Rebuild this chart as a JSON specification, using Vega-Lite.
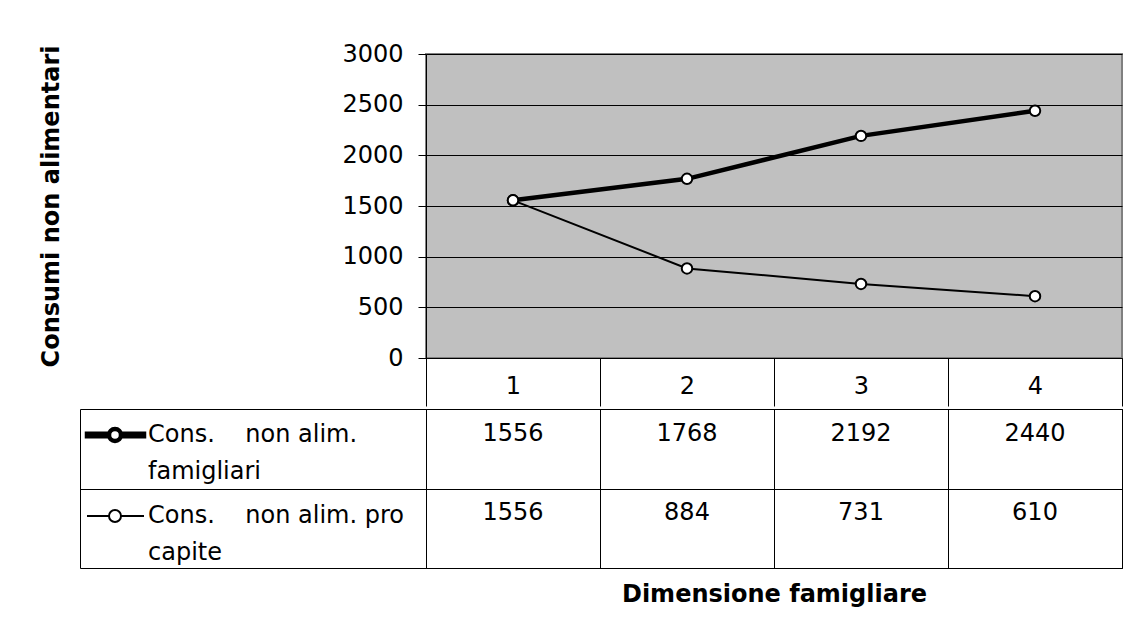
{
  "$schema": "https://vega.github.io/schema/vega-lite/v6.json",
  "padding": {"left": 38, "top": 41, "right": 0, "bottom": 0},
  "background": "white",
  "spacing": 0,
  "resolve": {"scale": {"strokeWidth": "independent"}, "legend": {"strokeWidth": "independent"}},
  "config": {
    "font": "DejaVu Sans",
    "axis": {
      "labelFont": "DejaVu Sans",
      "titleFont": "DejaVu Sans",
      "labelFontSize": 24,
      "titleFontSize": 24,
      "titleFontWeight": "bold",
      "labelColor": "black",
      "titleColor": "black",
      "domainColor": "black",
      "tickColor": "black",
      "gridColor": "black",
      "gridOpacity": 1
    },
    "legend": {
      "labelFont": "DejaVu Sans",
      "labelFontSize": 24,
      "labelColor": "black"
    }
  },
  "datasets": {
    "vals": [
      {"dim": "1", "series": "Cons. non alim. famigliari", "value": 1556},
      {"dim": "2", "series": "Cons. non alim. famigliari", "value": 1768},
      {"dim": "3", "series": "Cons. non alim. famigliari", "value": 2192},
      {"dim": "4", "series": "Cons. non alim. famigliari", "value": 2440},
      {"dim": "1", "series": "Cons. non alim. pro capite", "value": 1556},
      {"dim": "2", "series": "Cons. non alim. pro capite", "value": 884},
      {"dim": "3", "series": "Cons. non alim. pro capite", "value": 731},
      {"dim": "4", "series": "Cons. non alim. pro capite", "value": 610}
    ]
  },
  "vconcat": [
    {
      "width": 696,
      "height": 304,
      "view": {"fill": "#c0c0c0", "stroke": "#808080", "strokeWidth": 2},
      "data": {"name": "vals"},
      "encoding": {
        "x": {
          "field": "dim", "type": "ordinal",
          "scale": {"type": "band", "paddingInner": 0, "paddingOuter": 0},
          "axis": {"title": null, "labelAngle": 0, "tickBand": "extent", "tickSize": 48, "labelPadding": -32, "grid": false}
        },
        "y": {
          "field": "value", "type": "quantitative",
          "scale": {"domain": [0, 3000], "nice": false},
          "axis": {"title": "Consumi non alimentari", "format": "d", "values": [0, 500, 1000, 1500, 2000, 2500, 3000], "tickSize": 8, "labelPadding": 15, "titlePadding": 278, "grid": true}
        }
      },
      "layer": [
        {
          "mark": {"type": "line", "color": "black"},
          "encoding": {
            "detail": {"field": "series"},
            "strokeWidth": {"field": "series", "type": "nominal", "scale": {"range": [4.5, 2]}, "legend": null}
          }
        },
        {
          "mark": {"type": "point", "shape": "circle", "filled": false, "fill": "white", "fillOpacity": 1, "stroke": "black", "strokeWidth": 2, "size": 110, "opacity": 1}
        }
      ]
    },
    {
      "width": 696,
      "height": 159,
      "view": {"fill": "white", "stroke": "black", "strokeWidth": 1},
      "data": {"name": "vals"},
      "encoding": {
        "x": {
          "field": "dim", "type": "ordinal",
          "scale": {"type": "band", "paddingInner": 0, "paddingOuter": 0},
          "axis": {"title": "Dimensione famigliare", "labels": false, "ticks": false, "domain": false, "grid": true, "tickBand": "extent", "titlePadding": 14}
        },
        "y": {
          "field": "series", "type": "nominal",
          "scale": {"type": "band", "paddingInner": 0, "paddingOuter": 0},
          "axis": {
            "title": null, "offset": 346, "tickSize": -346, "tickBand": "extent", "grid": true, "labels": false
          }
        }
      },
      "layer": [
        {
          "mark": {"type": "text", "fontSize": 24, "font": "DejaVu Sans", "color": "black", "baseline": "middle", "dy": -15},
          "encoding": {"text": {"field": "value", "type": "quantitative", "format": "d"}}
        },
        {
          "transform": [{"filter": "datum.dim == '1'"}],
          "mark": {"type": "line", "color": "black"},
          "encoding": {
            "detail": {"field": "series"},
            "strokeWidth": {
              "field": "series", "type": "nominal", "scale": {"range": [4.5, 2]},
              "legend": {
                "title": null, "orient": "none", "legendX": -323, "legendY": 14, "padding": 0,
                "symbolSize": 4, "symbolType": "M-28,0H-6 M6,0H29 M-6,0A6,6 0 1,1 6,0A6,6 0 1,1 -6,0Z",
                "symbolFillColor": "white", "symbolStrokeColor": "black",
                "labelOffset": 21, "labelLimit": 400, "rowPadding": 20,
                "labelExpr": "datum.label == 'Cons. non alim. famigliari' ? ['Cons.\u00a0\u00a0\u00a0\u00a0non alim.', 'famigliari'] : ['Cons.\u00a0\u00a0\u00a0\u00a0non alim. pro', 'capite']",
                "encode": {
                  "symbols": {"update": {
                    "shape": {"signal": "datum.value == 'Cons. non alim. famigliari' ? 'M-28,-1.2H-6V1.2H-28Z M6,-1.2H29V1.2H6Z M-6,0A6,6 0 1,1 6,0A6,6 0 1,1 -6,0Z' : 'M-28,0H-6 M6,0H29 M-6,0A6,6 0 1,1 6,0A6,6 0 1,1 -6,0Z'"},
                    "opacity": {"value": 1}, "fill": {"value": "white"}, "fillOpacity": {"value": 1}, "stroke": {"value": "black"}, "strokeOpacity": {"value": 1}, "strokeWidth": {"value": 2}
                  }},
                  "labels": {"update": {"lineHeight": {"value": 37}}}
                }
              }
            }
          }
        }
      ]
    }
  ]
}
